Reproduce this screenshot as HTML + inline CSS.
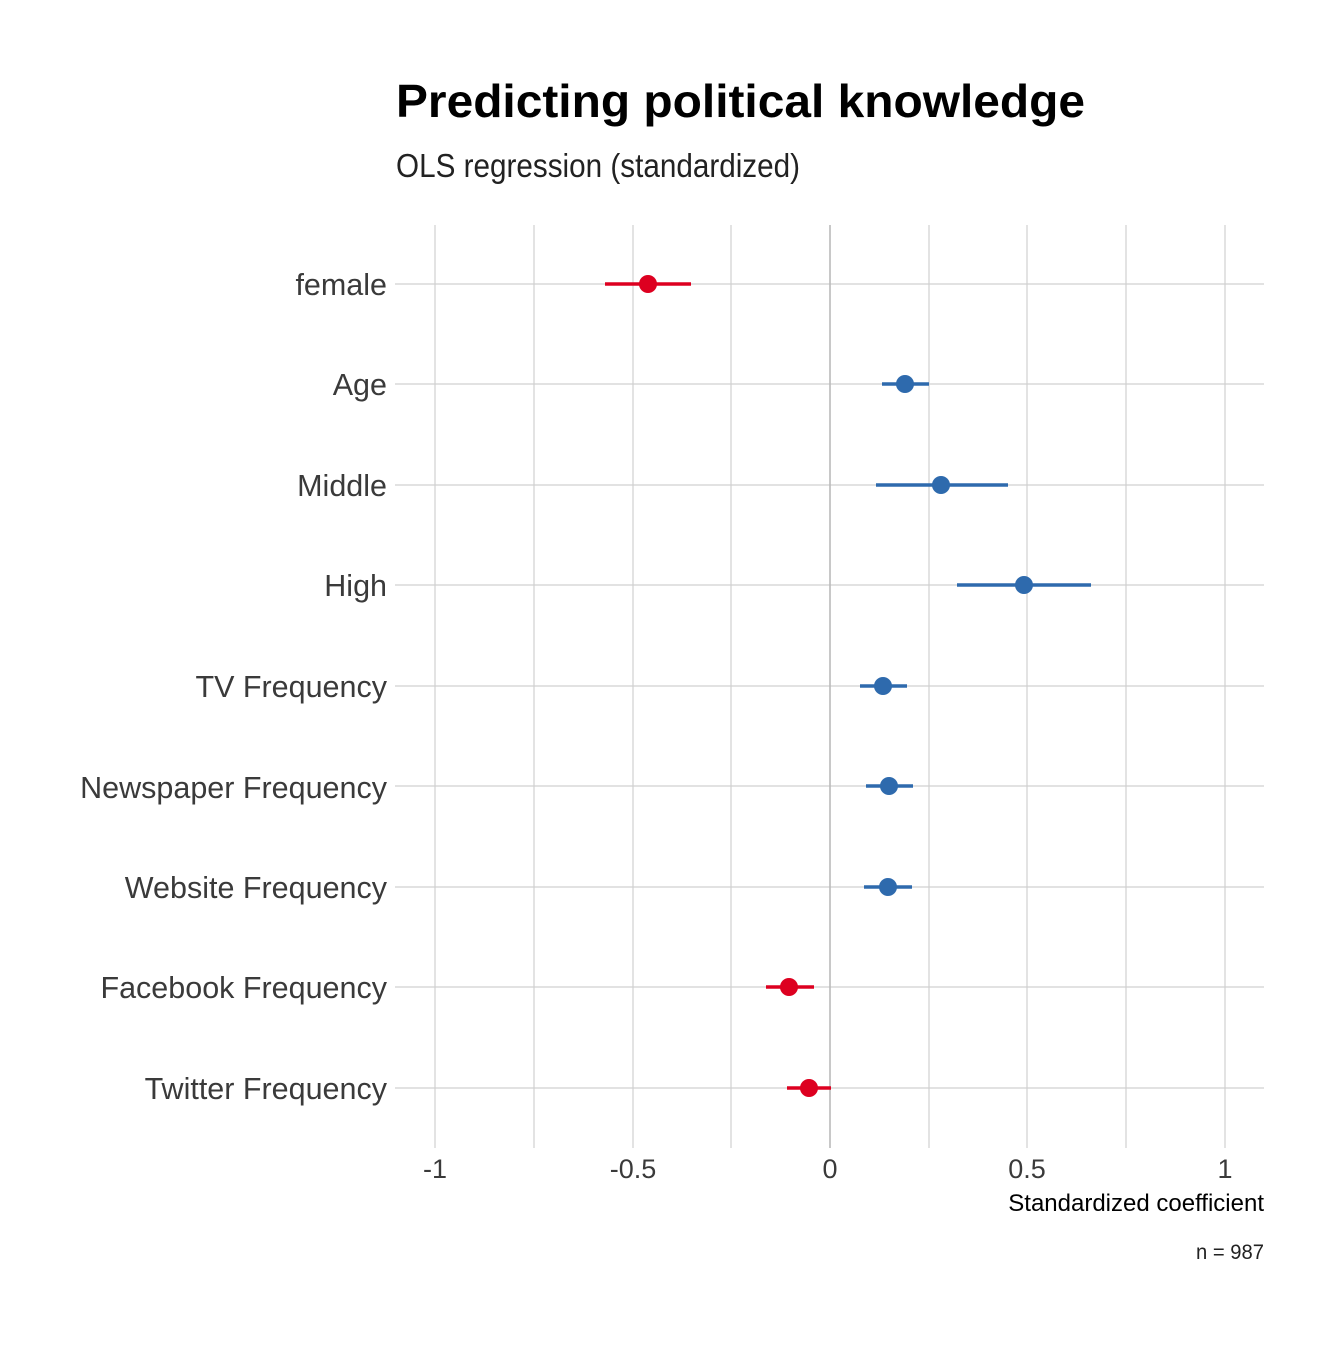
<!DOCTYPE html>
<html><head><meta charset="utf-8"><style>
body{margin:0;background:#fff}
svg text{font-family:"Liberation Sans",sans-serif}
</style></head><body>
<svg width="1344" height="1344" xmlns="http://www.w3.org/2000/svg">
<rect width="1344" height="1344" fill="#fff"/>
<text x="396" y="117" font-size="46" font-weight="bold" fill="#000" textLength="689" lengthAdjust="spacingAndGlyphs">Predicting political knowledge</text>
<text x="396" y="177" font-size="33" fill="#222" textLength="404" lengthAdjust="spacingAndGlyphs">OLS regression (standardized)</text>
<g stroke="#d0d0d0" stroke-width="1.2">
<line x1="435" y1="225" x2="435" y2="1148"/><line x1="534" y1="225" x2="534" y2="1148"/>
<line x1="633" y1="225" x2="633" y2="1148"/><line x1="731" y1="225" x2="731" y2="1148"/>
<line x1="929" y1="225" x2="929" y2="1148"/><line x1="1027" y1="225" x2="1027" y2="1148"/>
<line x1="1126" y1="225" x2="1126" y2="1148"/><line x1="1225" y1="225" x2="1225" y2="1148"/>
<line x1="395" y1="284" x2="1264" y2="284"/><line x1="395" y1="384" x2="1264" y2="384"/>
<line x1="395" y1="485" x2="1264" y2="485"/><line x1="395" y1="585" x2="1264" y2="585"/>
<line x1="395" y1="686" x2="1264" y2="686"/><line x1="395" y1="786" x2="1264" y2="786"/>
<line x1="395" y1="887" x2="1264" y2="887"/><line x1="395" y1="987" x2="1264" y2="987"/>
<line x1="395" y1="1088" x2="1264" y2="1088"/>
</g>
<line x1="830" y1="225" x2="830" y2="1148" stroke="#bbb" stroke-width="1.6"/>
<g stroke-width="3.5">
<line x1="605" y1="284" x2="691" y2="284" stroke="#dd0020"/>
<line x1="882" y1="384" x2="929" y2="384" stroke="#2e6aad"/>
<line x1="876" y1="485" x2="1008" y2="485" stroke="#2e6aad"/>
<line x1="957" y1="585" x2="1091" y2="585" stroke="#2e6aad"/>
<line x1="860" y1="686" x2="907" y2="686" stroke="#2e6aad"/>
<line x1="866" y1="786" x2="913" y2="786" stroke="#2e6aad"/>
<line x1="864" y1="887" x2="912" y2="887" stroke="#2e6aad"/>
<line x1="766" y1="987" x2="814" y2="987" stroke="#dd0020"/>
<line x1="787" y1="1088" x2="831" y2="1088" stroke="#dd0020"/>
</g>
<g>
<circle cx="648" cy="284" r="9" fill="#dd0020"/>
<circle cx="905" cy="384" r="9" fill="#2e6aad"/>
<circle cx="941" cy="485" r="9" fill="#2e6aad"/>
<circle cx="1024" cy="585" r="9" fill="#2e6aad"/>
<circle cx="883" cy="686" r="9" fill="#2e6aad"/>
<circle cx="889" cy="786" r="9" fill="#2e6aad"/>
<circle cx="888" cy="887" r="9" fill="#2e6aad"/>
<circle cx="789" cy="987" r="9" fill="#dd0020"/>
<circle cx="809" cy="1088" r="9" fill="#dd0020"/>
</g>
<g font-size="30.5" fill="#3a3a3a" text-anchor="end">
<text x="387" y="295">female</text><text x="387" y="395">Age</text>
<text x="387" y="496">Middle</text><text x="387" y="596">High</text>
<text x="387" y="697">TV Frequency</text><text x="387" y="798">Newspaper Frequency</text>
<text x="387" y="898">Website Frequency</text><text x="387" y="998">Facebook Frequency</text>
<text x="387" y="1099">Twitter Frequency</text>
</g>
<g font-size="27" fill="#3a3a3a" text-anchor="middle">
<text x="435" y="1178">-1</text><text x="633" y="1178">-0.5</text><text x="830" y="1178">0</text>
<text x="1027" y="1178">0.5</text><text x="1225" y="1178">1</text>
</g>
<text x="1264" y="1211" font-size="24" text-anchor="end" fill="#000">Standardized coefficient</text>
<text x="1264" y="1259" font-size="21" text-anchor="end" fill="#222" textLength="68" lengthAdjust="spacingAndGlyphs">n = 987</text>
</svg>
</body></html>
